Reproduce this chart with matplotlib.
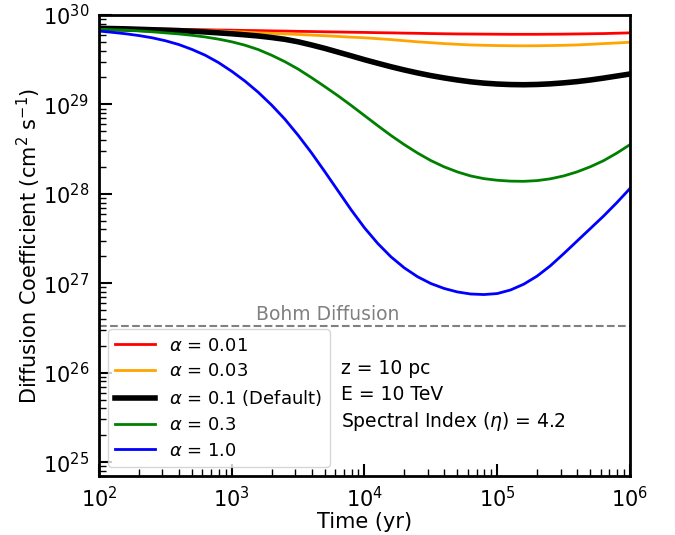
import numpy as np
import matplotlib
matplotlib.use('Agg')
import matplotlib.pyplot as plt

# time grid, log10(yr)
log_t = [2.0, 2.1, 2.2, 2.3, 2.4, 2.5, 2.6, 2.7, 2.8, 2.9,
         3.0, 3.1, 3.2, 3.3, 3.4, 3.5, 3.6, 3.7, 3.8, 3.9,
         4.0, 4.1, 4.2, 4.3, 4.4, 4.5, 4.6, 4.7, 4.8, 4.9,
         5.0, 5.1, 5.2, 5.3, 5.4, 5.5, 5.6, 5.7, 5.8, 5.9, 6.0]

# log10 of diffusion coefficient (cm^2 s^-1)
logd_001 = [29.850, 29.850, 29.848, 29.846, 29.844, 29.842, 29.840, 29.837, 29.835, 29.832,
            29.830, 29.827, 29.825, 29.822, 29.820, 29.817, 29.815, 29.812, 29.810, 29.807,
            29.805, 29.802, 29.800, 29.797, 29.795, 29.792, 29.790, 29.788, 29.787, 29.786,
            29.785, 29.784, 29.784, 29.784, 29.785, 29.786, 29.788, 29.790, 29.792, 29.796, 29.800]
logd_003 = [29.850, 29.848, 29.845, 29.843, 29.840, 29.838, 29.835, 29.830, 29.825, 29.820,
            29.815, 29.808, 29.800, 29.795, 29.788, 29.782, 29.775, 29.768, 29.760, 29.752,
            29.745, 29.735, 29.725, 29.712, 29.700, 29.690, 29.680, 29.672, 29.665, 29.661,
            29.658, 29.656, 29.655, 29.656, 29.658, 29.661, 29.665, 29.672, 29.680, 29.687, 29.695]
logd_01 = [29.850, 29.848, 29.845, 29.840, 29.835, 29.830, 29.825, 29.818, 29.810, 29.800,
           29.790, 29.778, 29.765, 29.748, 29.728, 29.700, 29.665, 29.627, 29.585, 29.543,
           29.500, 29.460, 29.421, 29.385, 29.352, 29.322, 29.296, 29.273, 29.253, 29.238,
           29.228, 29.222, 29.220, 29.223, 29.230, 29.241, 29.255, 29.273, 29.294, 29.317, 29.340]
logd_03 = [29.840, 29.836, 29.830, 29.822, 29.812, 29.800, 29.788, 29.773, 29.754, 29.730,
           29.700, 29.662, 29.613, 29.550, 29.478, 29.395, 29.300, 29.200, 29.097, 28.988,
           28.875, 28.762, 28.652, 28.550, 28.456, 28.372, 28.302, 28.245, 28.200, 28.170,
           28.152, 28.142, 28.140, 28.148, 28.168, 28.200, 28.245, 28.302, 28.370, 28.455, 28.550]
logd_10 = [29.820, 29.806, 29.790, 29.770, 29.745, 29.712, 29.670, 29.615, 29.550, 29.468,
           29.370, 29.260, 29.135, 28.993, 28.835, 28.655, 28.460, 28.250, 28.035, 27.820,
           27.620, 27.445, 27.295, 27.172, 27.073, 26.997, 26.942, 26.903, 26.880, 26.874,
           26.885, 26.925, 26.990, 27.080, 27.195, 27.330, 27.470, 27.610, 27.750, 27.900, 28.060]

bohm = 3.3e26

labels = [r'$\alpha$ = 0.01', r'$\alpha$ = 0.03', r'$\alpha$ = 0.1 (Default)',
          r'$\alpha$ = 0.3', r'$\alpha$ = 1.0']
colors = ['red', 'orange', 'black', 'green', 'blue']
widths = [2, 2, 4, 2, 2]

t = 10 ** np.array(log_t)

fig = plt.figure(figsize=(6.75, 5.35), dpi=100)
ax = fig.add_axes([0.1467, 0.1103, 0.7866, 0.8617])

for logd, lab, c, w in zip([logd_001, logd_003, logd_01, logd_03, logd_10], labels, colors, widths):
    ax.plot(t, 10 ** np.array(logd), color=c, lw=w, label=lab)

ax.axhline(bohm, color='gray', ls='--', lw=1.5)
ax.text(10 ** 3.725, bohm * 1.06, 'Bohm Diffusion', color='gray', fontsize=13.5,
        ha='center', va='bottom')

ax.set_xscale('log')
ax.set_yscale('log')
ax.set_xlim(1e2, 1e6)
ax.set_ylim(7.0e24, 1e30)

ax.set_xlabel('Time (yr)', fontsize=15, labelpad=1)
ax.set_ylabel(r'Diffusion Coefficient (cm$^2$ s$^{-1}$)', fontsize=15, labelpad=0)

for s in ax.spines.values():
    s.set_linewidth(2)
ax.tick_params(which='major', direction='in', length=9, width=1.5, labelsize=15, pad=7)
ax.tick_params(which='minor', direction='in', length=5, width=1)

ax.legend(loc='lower left', fontsize=13, handlelength=2.2, labelspacing=0.43)

ax.text(0.456, 0.234, 'z = 10 pc', transform=ax.transAxes, fontsize=13.5, va='center')
ax.text(0.456, 0.176, 'E = 10 TeV', transform=ax.transAxes, fontsize=13.5, va='center')
ax.text(0.456, 0.118, r'Spectral Index ($\eta$) = 4.2', transform=ax.transAxes, fontsize=13.5, va='center')

fig.savefig('out.png', dpi=100)
